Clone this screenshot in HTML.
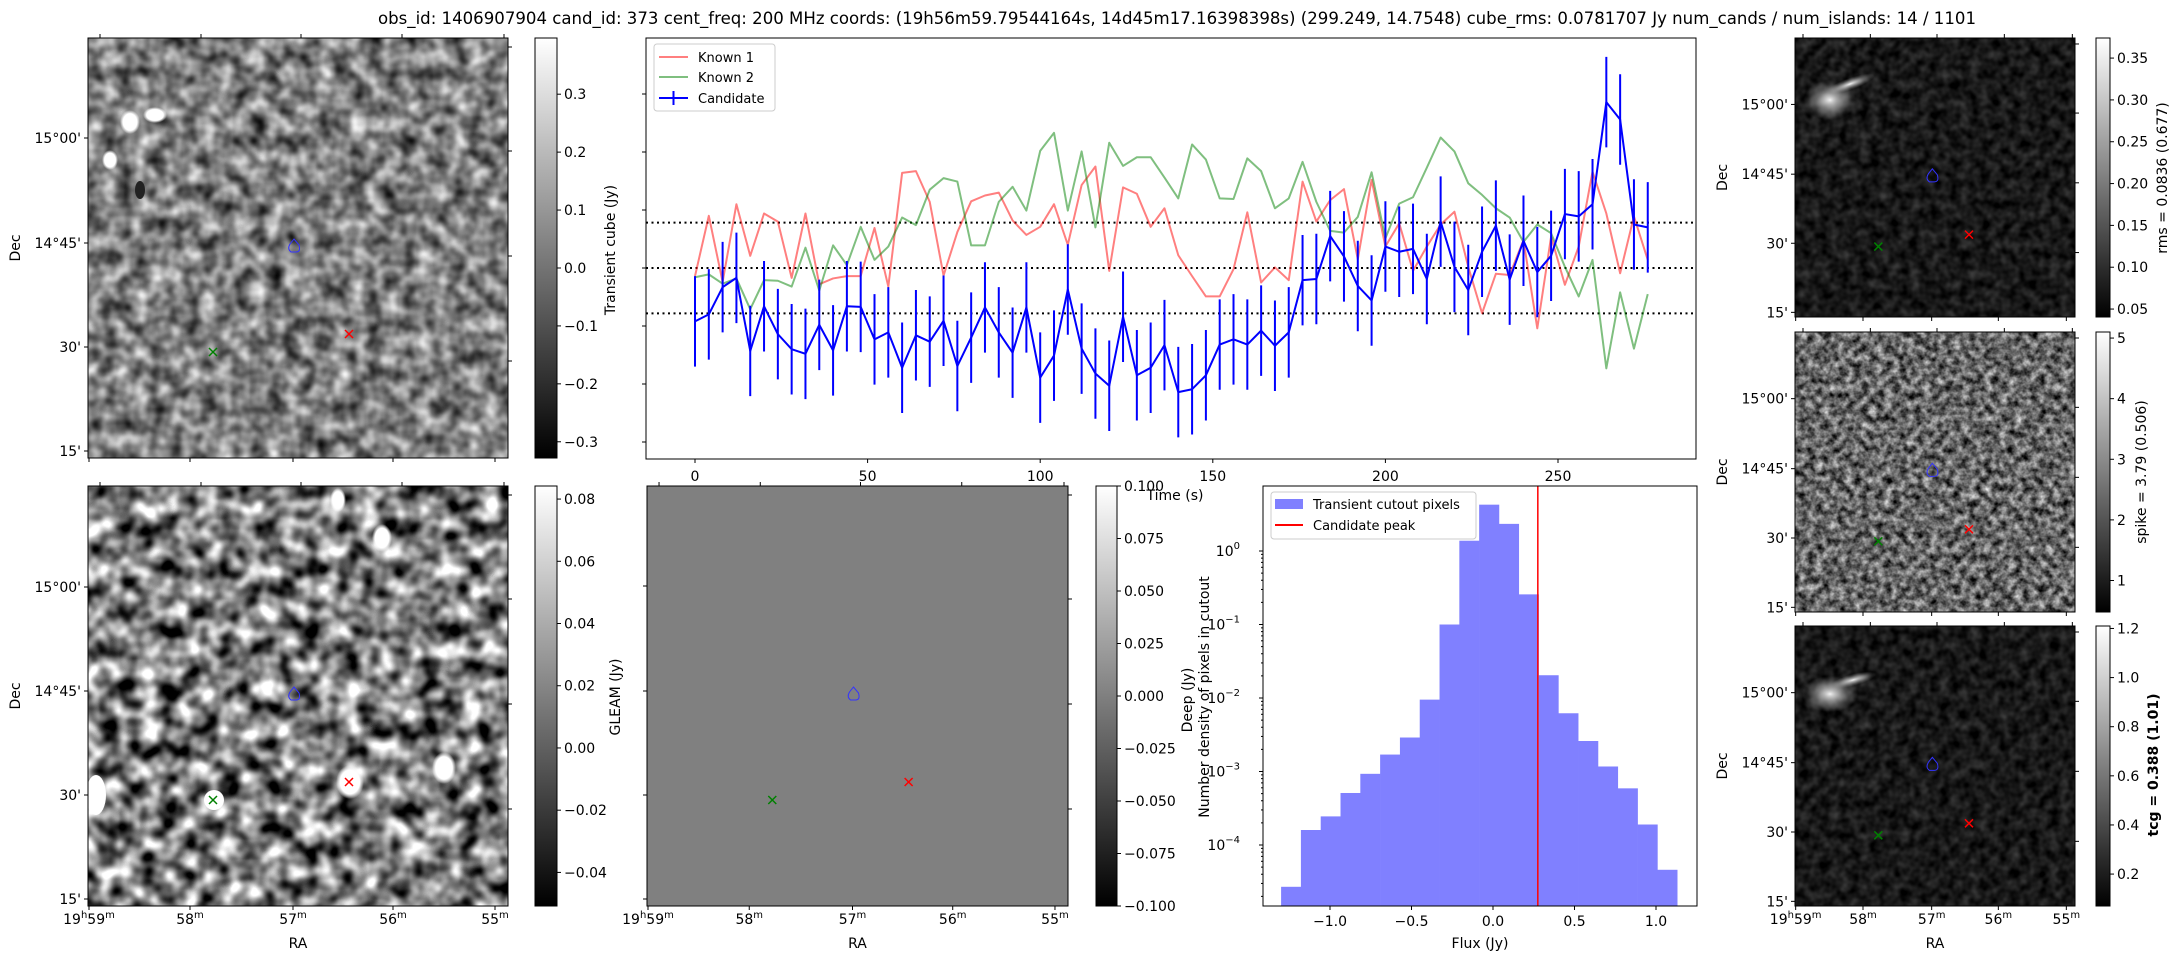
<!DOCTYPE html>
<html><head><meta charset="utf-8">
<style>
html,body{margin:0;padding:0;background:#fff;}
svg{display:block;font-family:"DejaVu Sans","Liberation Sans",sans-serif;}
text{fill:#000;}
</style></head>
<body>
<svg id="fig" xmlns="http://www.w3.org/2000/svg" width="2179" height="960" viewBox="0 0 2179 960">
<defs>
  <filter id="nTL" x="0" y="0" width="100%" height="100%" color-interpolation-filters="sRGB"><feTurbulence type="fractalNoise" baseFrequency="0.06" numOctaves="2" seed="3"/><feColorMatrix type="matrix" values="1.2 0 0 0 -0.1  1.2 0 0 0 -0.1  1.2 0 0 0 -0.1  0 0 0 0 1"/></filter>
  <filter id="nBL" x="0" y="0" width="100%" height="100%" color-interpolation-filters="sRGB"><feTurbulence type="fractalNoise" baseFrequency="0.05" numOctaves="2" seed="11"/><feColorMatrix type="matrix" values="2.0 0 0 0 -0.5  2.0 0 0 0 -0.5  2.0 0 0 0 -0.5  0 0 0 0 1"/></filter>
  <filter id="nR1" x="0" y="0" width="100%" height="100%" color-interpolation-filters="sRGB"><feTurbulence type="fractalNoise" baseFrequency="0.1" numOctaves="2" seed="5"/><feColorMatrix type="matrix" values="0.35 0 0 0 -0.08  0.35 0 0 0 -0.08  0.35 0 0 0 -0.08  0 0 0 0 1"/></filter>
  <filter id="nR2" x="0" y="0" width="100%" height="100%" color-interpolation-filters="sRGB"><feTurbulence type="fractalNoise" baseFrequency="0.13" numOctaves="3" seed="7"/><feColorMatrix type="matrix" values="1.2 0 0 0 -0.2  1.2 0 0 0 -0.2  1.2 0 0 0 -0.2  0 0 0 0 1"/></filter>
  <filter id="nR3" x="0" y="0" width="100%" height="100%" color-interpolation-filters="sRGB"><feTurbulence type="fractalNoise" baseFrequency="0.1" numOctaves="2" seed="9"/><feColorMatrix type="matrix" values="0.35 0 0 0 -0.08  0.35 0 0 0 -0.08  0.35 0 0 0 -0.08  0 0 0 0 1"/></filter>
  <linearGradient id="cb" x1="0" y1="1" x2="0" y2="0"><stop offset="0" stop-color="#000"/><stop offset="1" stop-color="#fff"/></linearGradient>
  <radialGradient id="blob"><stop offset="0" stop-color="#fff" stop-opacity="0.95"/><stop offset="0.5" stop-color="#ccc" stop-opacity="0.5"/><stop offset="1" stop-color="#888" stop-opacity="0"/></radialGradient>
  <radialGradient id="wblob"><stop offset="0" stop-color="#fff"/><stop offset="0.7" stop-color="#fff"/><stop offset="1" stop-color="#fff" stop-opacity="0"/></radialGradient>
</defs>

<text x="1177" y="24" font-size="16.5" text-anchor="middle" textLength="1598" lengthAdjust="spacingAndGlyphs">obs_id: 1406907904 cand_id: 373 cent_freq: 200 MHz coords: (19h56m59.79544164s, 14d45m17.16398398s) (299.249, 14.7548) cube_rms: 0.0781707 Jy num_cands / num_islands: 14 / 1101</text>

<g>
  <rect x="88" y="38" width="420" height="420" fill="#808080" filter="url(#nTL)"/>
  <ellipse cx="130" cy="122" rx="10" ry="12" fill="url(#wblob)"/>
  <ellipse cx="110" cy="160" rx="8" ry="10" fill="url(#wblob)"/>
  <ellipse cx="155" cy="115" rx="12" ry="8" fill="url(#wblob)"/>
  <ellipse cx="140" cy="190" rx="5" ry="9" fill="#222"/>
  <rect x="88" y="38" width="420" height="420" fill="none" stroke="#000" stroke-width="1"/>
</g>
<rect x="535" y="38" width="22" height="420" fill="url(#cb)" stroke="#000"/>
<text transform="translate(615,250) rotate(-90)" font-size="14" text-anchor="middle">Transient cube (Jy)</text>

<g>
  <rect x="88" y="486" width="420" height="420" fill="#808080" filter="url(#nBL)"/>
  <ellipse cx="96" cy="795" rx="10" ry="20" fill="#fff"/>
  <ellipse cx="214" cy="800" rx="10" ry="10" fill="#fff"/>
  <ellipse cx="350" cy="782" rx="14" ry="17" fill="url(#wblob)"/>
  <ellipse cx="444" cy="768" rx="12" ry="16" fill="url(#wblob)"/>
  <ellipse cx="382" cy="538" rx="10" ry="14" fill="url(#wblob)"/>
  <ellipse cx="338" cy="500" rx="8" ry="12" fill="url(#wblob)"/>
  <rect x="88" y="486" width="420" height="420" fill="none" stroke="#000"/>
</g>
<rect x="535" y="486" width="22" height="420" fill="url(#cb)" stroke="#000"/>

<rect x="647" y="486" width="421" height="420" fill="#808080" stroke="#000"/>
<rect x="1096" y="486" width="21" height="420" fill="url(#cb)" stroke="#000"/>
<text transform="translate(620,697) rotate(-90)" font-size="14" text-anchor="middle">GLEAM (Jy)</text>

<g>
  <rect x="1795" y="38" width="280" height="279" fill="#222" filter="url(#nR1)"/>
  <ellipse cx="1830" cy="100" rx="26" ry="20" fill="url(#blob)"/>
  <ellipse cx="1850" cy="84" rx="26" ry="6" fill="url(#blob)" transform="rotate(-20 1850 84)"/>
  <rect x="1795" y="38" width="280" height="279" fill="none" stroke="#000"/>
</g>
<rect x="2096" y="38" width="14" height="279" fill="url(#cb)" stroke="#000"/>
<text transform="translate(2167,178) rotate(-90)" font-size="14" text-anchor="middle">rms = 0.0836 (0.677)</text>

<g>
  <rect x="1795" y="332" width="280" height="280" fill="#777" filter="url(#nR2)"/>
  <rect x="1795" y="332" width="280" height="280" fill="none" stroke="#000"/>
</g>
<rect x="2096" y="332" width="14" height="280" fill="url(#cb)" stroke="#000"/>
<text transform="translate(2146,472) rotate(-90)" font-size="14" text-anchor="middle">spike = 3.79 (0.506)</text>

<g>
  <rect x="1795" y="626" width="280" height="280" fill="#222" filter="url(#nR3)"/>
  <ellipse cx="1830" cy="694" rx="28" ry="18" fill="url(#blob)"/>
  <ellipse cx="1853" cy="680" rx="24" ry="6" fill="url(#blob)" transform="rotate(-15 1853 680)"/>
  <rect x="1795" y="626" width="280" height="280" fill="none" stroke="#000"/>
</g>
<rect x="2096" y="626" width="14" height="280" fill="url(#cb)" stroke="#000"/>
<text transform="translate(2158,765) rotate(-90)" font-size="14" font-weight="bold" text-anchor="middle">tcg = 0.388 (1.01)</text>

<g id="ts">
  <rect x="646" y="38" width="1050" height="421" fill="#fff" stroke="#000"/>
</g>
<text x="1175" y="500" font-size="14" text-anchor="middle">Time (s)</text>

<g id="hist">
  <rect x="1263" y="486" width="434" height="420" fill="#fff" stroke="#000"/>
</g>
<text x="1480" y="948" font-size="14" text-anchor="middle">Flux (Jy)</text>
<text transform="translate(1192,700) rotate(-90)" font-size="14" text-anchor="middle">Deep (Jy)</text>
<text transform="translate(1209,697) rotate(-90)" font-size="14" text-anchor="middle">Number density of pixels in cutout</text>

<g id="axes"></g>
</svg>

<script>
// ---------- light curve data ----------
const times = [];
for (let i = 0; i < 70; i++) times.push(i * 4);
const known1 = [-0.014,0.090,-0.024,0.110,0.021,0.094,0.080,-0.017,0.094,-0.028,-0.018,-0.014,-0.014,0.069,-0.032,0.164,0.167,0.114,-0.013,0.062,0.115,0.125,0.130,
0.082,0.057,0.071,0.110,0.040,0.143,0.175,-0.005,0.139,0.128,0.071,0.103,0.022,-0.014,-0.049,-0.049,-0.002,0.096,-0.025,0.001,-0.021,0.149,0.080,
0.117,0.136,0.015,0.152,0.037,0.077,-0.005,0.037,0.075,0.097,0.002,-0.078,-0.010,-0.012,0.048,-0.104,0.054,-0.029,0.037,0.166,0.094,-0.009,0.089,0.014];
const known2 = [-0.016,-0.011,-0.027,-0.018,-0.071,-0.021,-0.022,-0.032,0.035,-0.039,0.039,0.005,0.071,0.014,0.037,0.087,0.074,0.135,0.155,0.149,0.039,0.039,0.114,
0.140,0.099,0.202,0.233,0.099,0.201,0.070,0.216,0.176,0.191,0.191,0.156,0.120,0.213,0.187,0.120,0.119,0.189,0.167,0.103,0.120,0.183,0.114,
0.064,0.061,0.088,0.165,0.051,0.111,0.122,0.173,0.225,0.201,0.146,0.126,0.103,0.087,0.045,0.075,0.060,0.002,-0.049,0.014,-0.173,-0.042,-0.139,-0.045];
const candidate = [-0.092,-0.080,-0.033,-0.017,-0.143,-0.066,-0.114,-0.140,-0.148,-0.098,-0.142,-0.066,-0.067,-0.123,-0.111,-0.172,-0.116,-0.127,-0.091,-0.169,-0.120,-0.068,-0.111,
-0.146,-0.068,-0.189,-0.151,-0.037,-0.139,-0.182,-0.203,-0.084,-0.185,-0.172,-0.133,-0.214,-0.209,-0.185,-0.132,-0.123,-0.132,-0.108,-0.134,-0.111,-0.021,-0.019,
0.055,0.020,-0.031,-0.056,0.037,0.028,0.033,-0.019,0.080,0.002,-0.038,0.028,0.073,-0.020,0.047,-0.007,0.021,0.093,0.089,0.110,0.286,0.256,0.075,0.070];
const candErr = candidate.map(() => 0.078);
const rmsLevels = [0.0781707, 0, -0.0781707];
const timeTicks = [0, 50, 100, 150, 200, 250];
const fluxTicksTS = [-0.3, -0.2, -0.1, 0.0, 0.1, 0.2, 0.3];

// ---------- histogram data ----------
const binStart = -1.30;
const binWidth = 0.1215;
const histDensity = [2.7e-5,1.6e-4,2.45e-4,5.1e-4,9.3e-4,1.7e-3,2.9e-3,9.5e-3,0.1,1.38,4.27,2.34,0.257,0.0204,0.0062,0.0026,0.00117,0.00059,0.00019,4.6e-5];
const candidatePeak = 0.275;
const histXTicks = [-1.0, -0.5, 0.0, 0.5, 1.0];
const histYTicks = [0, -1, -2, -3, -4];

// ---------- colorbar ticks ----------
const cbTransient = [0.3, 0.2, 0.1, 0.0, -0.1, -0.2, -0.3];
const cbDeep = [0.08, 0.06, 0.04, 0.02, 0.00, -0.02, -0.04];
const cbGleam = [0.100, 0.075, 0.050, 0.025, 0.000, -0.025, -0.050, -0.075, -0.100];
const cbRms = [0.35, 0.30, 0.25, 0.20, 0.15, 0.10, 0.05];
const cbSpike = [5, 4, 3, 2, 1];
const cbTcg = [1.2, 1.0, 0.8, 0.6, 0.4, 0.2];

const NS = 'http://www.w3.org/2000/svg';
function mk(tag, attrs, parent) {
  const e = document.createElementNS(NS, tag);
  for (const k in attrs) e.setAttribute(k, attrs[k]);
  parent.appendChild(e);
  return e;
}
const axesG = document.getElementById('axes');
const ts = document.getElementById('ts');
const hist = document.getElementById('hist');

const xT = t => 695 + t * 3.452;
const yV = v => 268 - v * 580;
const xF = f => 1493 + f * 163;
const yL = d => 551 - 73.5 * Math.log10(d);

rmsLevels.forEach(v => {
  const l = mk('line', {x1: 646, x2: 1696, y1: yV(v), y2: yV(v), stroke: '#000', 'stroke-width': 2, 'stroke-dasharray': '2,3.5'}, ts);
  
  
});
function series(vals, color, w, name) {
  const p = mk('polyline', {points: vals.map((v, i) => xT(times[i]) + ',' + yV(v)).join(' '), fill: 'none', stroke: color, 'stroke-width': w, 'stroke-linejoin': 'round'}, ts);
  
  
}
series(known1, 'rgba(255,0,0,0.5)', 2, 'known-1-line');
series(known2, 'rgba(0,128,0,0.5)', 2, 'known-2-line');
candidate.forEach((v, i) => {
  const e = mk('line', {x1: xT(times[i]), x2: xT(times[i]), y1: yV(v - candErr[i]), y2: yV(v + candErr[i]), stroke: '#0000ff', 'stroke-width': 2}, ts);
  
  
});
series(candidate, '#0000ff', 2, 'candidate-line');

timeTicks.forEach(t => {
  mk('line', {x1: xT(t), x2: xT(t), y1: 459, y2: 463, stroke: '#000'}, axesG);
  const tx = mk('text', {x: xT(t), y: 481, 'font-size': 14, 'text-anchor': 'middle'}, axesG);
  tx.textContent = t;
  
  
});
fluxTicksTS.forEach(v => {
  mk('line', {x1: 642, x2: 646, y1: yV(v), y2: yV(v), stroke: '#000'}, axesG);
});

const lg = mk('g', {}, ts);


mk('rect', {x: 654, y: 44, width: 121, height: 67, rx: 3, fill: '#fff', stroke: '#ccc'}, lg);
[['Known 1', 'rgba(255,0,0,0.5)', 57], ['Known 2', 'rgba(0,128,0,0.5)', 77], ['Candidate', '#0000ff', 98]].forEach(([lab, c, y]) => {
  mk('line', {x1: 659, x2: 688, y1: y, y2: y, stroke: c, 'stroke-width': 2}, lg);
  const t = mk('text', {x: 698, y: y + 5, 'font-size': 13}, lg);
  t.textContent = lab;
  
  
});
mk('line', {x1: 673.5, x2: 673.5, y1: 91, y2: 105, stroke: '#0000ff', 'stroke-width': 2}, lg);

histDensity.forEach((d, i) => {
  const x0 = xF(binStart + i * binWidth), x1 = xF(binStart + (i + 1) * binWidth);
  const y = yL(d);
  const r = mk('rect', {x: x0, y: y, width: x1 - x0 + 0.3, height: 906 - y, fill: '#8080ff'}, hist);
  
  
});
const pk = mk('line', {x1: xF(candidatePeak), x2: xF(candidatePeak), y1: 486, y2: 906, stroke: '#ff0000', 'stroke-width': 1.5}, hist);


mk('rect', {x: 1263, y: 486, width: 434, height: 420, fill: 'none', stroke: '#000'}, hist);
histXTicks.forEach(v => {
  mk('line', {x1: xF(v), x2: xF(v), y1: 906, y2: 910, stroke: '#000'}, axesG);
  const t = mk('text', {x: xF(v), y: 926, 'font-size': 14, 'text-anchor': 'middle'}, axesG);
  t.textContent = (v < 0 ? '\u2212' : '') + Math.abs(v).toFixed(1);
  
  
});
histYTicks.forEach(p => {
  const y = yL(Math.pow(10, p));
  mk('line', {x1: 1259, x2: 1263, y1: y, y2: y, stroke: '#000'}, axesG);
  for (let m = 2; m < 10; m++) {
    const ym = yL(m * Math.pow(10, p - 1));
    if (ym > 486 && ym < 906) mk('line', {x1: 1261, x2: 1263, y1: ym, y2: ym, stroke: '#000'}, axesG);
  }
  const t = mk('text', {x: 1240, y: y + 5, 'font-size': 14, 'text-anchor': 'end'}, axesG);
  
  
  t.textContent = '10';
  const s = mk('tspan', {dy: -7, 'font-size': 10}, t);
  s.textContent = p === 0 ? '0' : '\u2212' + Math.abs(p);
});
const hl = mk('g', {}, hist);


mk('rect', {x: 1271, y: 492, width: 205, height: 47, rx: 3, fill: '#fff', stroke: '#ccc'}, hl);
mk('rect', {x: 1275, y: 499, width: 28, height: 10, fill: '#8080ff'}, hl);
mk('line', {x1: 1275, x2: 1303, y1: 525, y2: 525, stroke: '#ff0000', 'stroke-width': 2}, hl);
const h1 = mk('text', {x: 1313, y: 509, 'font-size': 13}, hl); h1.textContent = 'Transient cutout pixels';


const h2 = mk('text', {x: 1313, y: 530, 'font-size': 13}, hl); h2.textContent = 'Candidate peak';



function colorbar(x, w, top, bot, vmax, vmin, ticks, dec, name) {
  ticks.forEach(v => {
    const y = top + (vmax - v) / (vmax - vmin) * (bot - top);
    mk('line', {x1: x + w, x2: x + w + 4, y1: y, y2: y, stroke: '#000'}, axesG);
    const t = mk('text', {x: x + w + 7, y: y + 5, 'font-size': 14}, axesG);
    t.textContent = (v < 0 ? '\u2212' : '') + Math.abs(v).toFixed(dec);
    
    
  });
}
colorbar(535, 22, 38, 458, 0.397, -0.328, cbTransient, 1, 'transient-colorbar-tick');
colorbar(535, 22, 486, 906, 0.0842, -0.0508, cbDeep, 2, 'deep-colorbar-tick');
colorbar(1096, 21, 486, 906, 0.1, -0.1, cbGleam, 3, 'gleam-colorbar-tick');
colorbar(2096, 14, 38, 317, 0.374, 0.0405, cbRms, 2, 'rms-colorbar-tick');
colorbar(2096, 14, 332, 612, 5.1, 0.48, cbSpike, 0, 'spike-colorbar-tick');
colorbar(2096, 14, 626, 906, 1.21, 0.07, cbTcg, 1, 'tcg-colorbar-tick');

function raLabel(x, y, h, m, parent) {
  const t = mk('text', {x: x, y: y, 'font-size': 14, 'text-anchor': 'middle'}, parent);
  
  
  if (h) { const a = mk('tspan', {}, t); a.textContent = '19'; const b = mk('tspan', {dy: -6, 'font-size': 10}, t); b.textContent = 'h'; const c = mk('tspan', {dy: 6}, t); c.textContent = '59'; }
  else { const c = mk('tspan', {}, t); c.textContent = m; }
  const d = mk('tspan', {dy: -6, 'font-size': 10}, t); d.textContent = 'm';
}
function skyAxes(x0, y0, w, h, showRA, dTicks, showDec) {
  const sx = w / 420;
  const botT = [1, 102, 205, 305, 407].map(v => x0 + v * sx);
  const topT = [12, 113, 213, 314, 416].map(v => x0 + v * sx);
  botT.forEach((x, i) => {
    mk('line', {x1: x, x2: x, y1: y0 + h, y2: y0 + h + 4, stroke: '#000'}, axesG);
    if (showRA) raLabel(x, y0 + h + 18, i === 0, ['', '58', '57', '56', '55'][i], axesG);
  });
  topT.forEach(x => mk('line', {x1: x, x2: x, y1: y0 - 4, y2: y0, stroke: '#000'}, axesG));
  const labs = ['15\u00b000\'', '14\u00b045\'', '30\'', '15\''];
  dTicks.forEach((dy, i) => {
    const y = y0 + dy * h / 420;
    mk('line', {x1: x0 - 4, x2: x0, y1: y, y2: y, stroke: '#000'}, axesG);
    if (showDec) {
      const t = mk('text', {x: x0 - 7, y: y + 5, 'font-size': 14, 'text-anchor': 'end'}, axesG);
      t.textContent = labs[i];
      
      
    }
  });
  [9, 113, 218, 323].forEach(dy => mk('line', {x1: x0 + w, x2: x0 + w + 4, y1: y0 + dy * h / 420, y2: y0 + dy * h / 420, stroke: '#000'}, axesG));
  if (showDec) {
    const dl = mk('text', {transform: 'translate(' + (x0 - 68) + ',' + (y0 + 210 * h / 420) + ') rotate(-90)', 'font-size': 14, 'text-anchor': 'middle'}, axesG);
    dl.textContent = 'Dec';
    
    
  }
  if (showRA) {
    const r = mk('text', {x: x0 + w / 2, y: y0 + h + 42, 'font-size': 14, 'text-anchor': 'middle'}, axesG);
    r.textContent = 'RA';
    
    
  }
  const bx = x0 + 206 * sx, by = y0 + 209 * h / 420;
  const c = mk('path', {d: `M${bx},${by-8} L${bx+5},${by-2} Q${bx+7},${by+5} ${bx+2},${by+5} L${bx-3},${by+5} Q${bx-7},${by+2} ${bx-4},${by-3} Z`, fill: 'none', stroke: '#3333ff', 'stroke-width': 1}, axesG);
  
  
  [[125, 314, '#008000', 'known-2-marker'], [261, 296, '#ff0000', 'known-1-marker']].forEach(([mx, my, col, nm]) => {
    const X = x0 + mx * sx, Y = y0 + my * h / 420, s = 4;
    const g = mk('path', {d: `M${X-s},${Y-s} L${X+s},${Y+s} M${X-s},${Y+s} L${X+s},${Y-s}`, stroke: col, 'stroke-width': 1.5}, axesG);
    
    
  });
}
skyAxes(88, 38, 420, 420, false, [100, 205, 309, 413], true);
skyAxes(88, 486, 420, 420, true, [101, 205, 309, 413], true);
skyAxes(647, 486, 421, 420, true, [100, 205, 309, 413], false);
skyAxes(1795, 38, 280, 279, false, [100, 205, 309, 413], true);
skyAxes(1795, 332, 280, 280, false, [100, 205, 309, 413], true);
skyAxes(1795, 626, 280, 280, true, [100, 205, 309, 413], true);
</script>
</body></html>
